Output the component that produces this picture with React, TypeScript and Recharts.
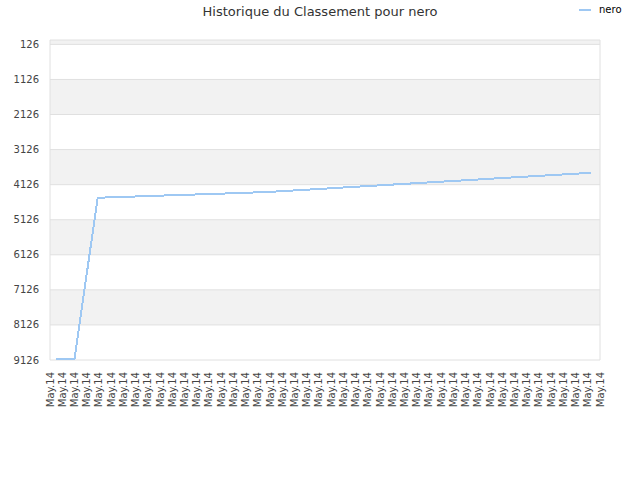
import React from 'react';
import { LineChart, Line, XAxis, YAxis, ReferenceArea, ReferenceLine } from 'recharts';

const chartTitle = 'Historique du Classement pour nero';
const seriesName = 'nero';
const xTickLabel = 'May.14';

// one tick per label along the bottom axis
const xTicks = [
  0, 1, 2, 3, 4, 5, 6, 7, 8, 9, 10, 11, 12, 13, 14, 15, 16, 17, 18, 19, 20, 21, 22,
  23, 24, 25, 26, 27, 28, 29, 30, 31, 32, 33, 34, 35, 36, 37, 38, 39, 40, 41, 42, 43, 44, 45,
];
const yTicks = [126, 1126, 2126, 3126, 4126, 5126, 6126, 7126, 8126, 9126];

// ranking (position along the axis, rank)
const pointIndex = [0.5, 2, 3.9, 6, 8, 10, 12, 14, 16, 18, 20, 22, 24, 26, 28, 30, 32, 34, 36, 38, 40, 42, 44, 44.3];
const rankValues = [
  9110, 9110, 4499, 4475, 4451, 4428, 4405, 4382, 4358, 4332, 4290, 4249, 4207, 4166, 4124,
  4083, 4041, 4000, 3958, 3917, 3875, 3834, 3793, 3787,
];

const data = pointIndex.map((x, i) => ({ x, rank: rankValues[i] }));

// grey stripes between every other pair of grid lines
const greyBands: number[][] = [[1, yTicks[0]]];
for (let i = 1; i < yTicks.length - 1; i += 2) greyBands.push([yTicks[i], yTicks[i + 1]]);

const LINE_COLOR = '#9ec8f3';
const GRID_COLOR = '#e0e0e0';
const FONT = '"DejaVu Sans", sans-serif';

const XTick = (props: any) => {
  const { x, y } = props;
  return (
    <text
      x={x}
      y={y}
      transform={`rotate(-90 ${x} ${y})`}
      textAnchor="end"
      dominantBaseline="central"
      fontSize={10}
      fill="#444"
      fontFamily={FONT}
    >
      {xTickLabel}
    </text>
  );
};

export default function App() {
  return (
    <div style={{ position: 'absolute', left: 0, top: 0, width: 640, height: 480, background: '#fff', fontFamily: FONT }}>
      <style>{`.recharts-line-curve{shape-rendering:crispEdges}`}</style>
      <div style={{ position: 'absolute', top: 4, left: 0, width: 640, textAlign: 'center', fontSize: 13, color: '#333' }}>
        {chartTitle}
      </div>
      <div style={{ position: 'absolute', top: 4, left: 579, display: 'flex', alignItems: 'center', fontSize: 10, color: '#000' }}>
        <span style={{ display: 'inline-block', width: 12, height: 2, background: LINE_COLOR, marginRight: 8 }} />
        {seriesName}
      </div>
      <LineChart width={640} height={480} data={data} margin={{ top: 40, right: 40, bottom: 0, left: 0 }}>
        <XAxis
          dataKey="x"
          type="number"
          domain={[0, 45]}
          ticks={xTicks}
          interval={0}
          height={120}
          axisLine={false}
          tickLine={false}
          tickSize={0}
          tickMargin={12}
          tick={<XTick />}
        />
        <YAxis
          type="number"
          domain={[1, 9126]}
          reversed
          ticks={yTicks}
          interval={0}
          width={50}
          axisLine={false}
          tickLine={false}
          tickSize={0}
          tickMargin={11}
          tick={{ fontSize: 10, fill: '#444', fontFamily: FONT }}
        />
        {greyBands.map(([a, b]) => (
          <ReferenceArea key={`band-${a}`} y1={a} y2={b} fill="#f2f2f2" fillOpacity={1} stroke="none" />
        ))}
        {yTicks.map((t) => (
          <ReferenceLine key={`grid-${t}`} y={t} stroke={GRID_COLOR} strokeWidth={1} />
        ))}
        <ReferenceLine y={1} stroke={GRID_COLOR} />
        <ReferenceLine x={0} stroke={GRID_COLOR} />
        <ReferenceLine x={45} stroke={GRID_COLOR} />
        <Line
          type="linear"
          dataKey="rank"
          name={seriesName}
          stroke={LINE_COLOR}
          strokeWidth={2}
          dot={false}
          activeDot={false}
          isAnimationActive={false}
        />
      </LineChart>
    </div>
  );
}
